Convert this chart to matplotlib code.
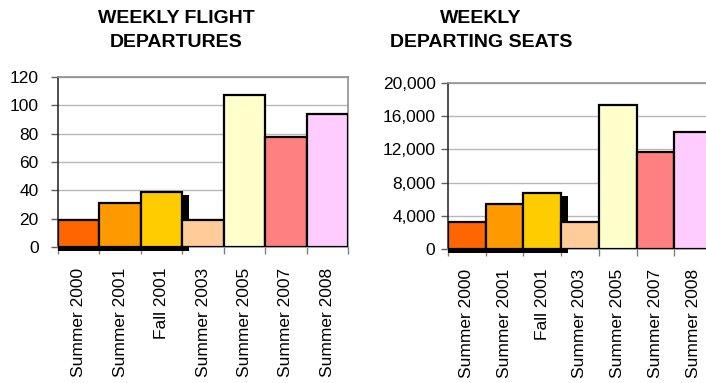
import matplotlib
matplotlib.use("Agg")
import matplotlib.pyplot as plt
import numpy as np
from matplotlib.ticker import FuncFormatter

plt.rcParams['font.family'] = ['Liberation Sans', 'DejaVu Sans']

categories = ["Summer 2000", "Summer 2001", "Fall 2001", "Summer 2003",
              "Summer 2005", "Summer 2007", "Summer 2008"]
departures = [19, 31, 39, 19, 107, 78, 94]
seats = [3240, 5400, 6800, 3240, 17400, 11700, 14100]
colors = ["#FF6600", "#FF9900", "#FFCC00", "#FFCC99", "#FFFFCC", "#FF8080", "#FFCCFF"]
left_ticks = [0, 20, 40, 60, 80, 100, 120]
right_ticks = [0, 4000, 8000, 12000, 16000, 20000]
shadowed = 3  # first bars with a dark 3D shadow artefact

W, H = 706, 383
fig = plt.figure(figsize=(W / 100, H / 100), dpi=100)

def make_axes(px_left, px_right, px_top, px_bottom):
    return fig.add_axes([px_left / W, 1 - px_bottom / H,
                         (px_right - px_left) / W, (px_bottom - px_top) / H])

ax1 = make_axes(58, 348, 77, 247)
ax2 = make_axes(448, 712, 83, 249)

def draw(ax, values, ticks, ymax, shadow_dx, shadow_dy, ypad, xpad, fmt=None):
    x = np.arange(len(values))
    # shadow artefact behind first bars
    for i in range(shadowed):
        ax.bar(x[i] - 0.5, values[i] + shadow_dy * 0.2, bottom=-shadow_dy,
               width=1.0 + shadow_dx, align="edge",
               color="black", edgecolor="black", linewidth=0, zorder=2.6,
               clip_on=False)
    ax.bar(x, values, width=1.0, color=colors, edgecolor="black",
           linewidth=1.6, zorder=3)
    ax.set_xlim(-0.5, len(values) - 0.5)
    ax.set_ylim(0, ymax)
    ax.set_yticks(ticks)
    if fmt:
        ax.yaxis.set_major_formatter(FuncFormatter(fmt))
    ax.yaxis.grid(True, color="#b8b8b8", linewidth=1.0, zorder=0)
    ax.set_axisbelow(True)
    ax.set_xticks(x)
    ax.set_xticklabels(categories, rotation=90, fontsize=12.5, va="top")
    ax.set_xticks(np.arange(len(values) + 1) - 0.5, minor=True)
    ax.tick_params(axis="x", which="major", length=0, pad=xpad)
    ax.tick_params(axis="x", which="minor", length=5, color="#808080", width=1)
    ax.tick_params(axis="y", length=5, color="#606060", width=1,
                   labelsize=12.5, pad=ypad)
    for s in ["top", "right", "bottom"]:
        ax.spines[s].set_color("#909090")
        ax.spines[s].set_linewidth(1.2)
    ax.spines["left"].set_color("#303030")
    ax.spines["left"].set_linewidth(1.2)

draw(ax1, departures, left_ticks, 120, 0.15, 3, 9, 15)
draw(ax2, seats, right_ticks, 20000, 0.17, 480, 4, 14,
     fmt=lambda v, p: f"{int(v):,}")

def title(lines, cx):
    ys = [23, 47]
    for t, y in zip(lines, ys):
        fig.text(cx / W, 1 - y / H, t, ha="center", va="baseline",
                 fontsize=14, fontweight="bold")

title(["WEEKLY FLIGHT", "DEPARTURES"], 176)
title(["WEEKLY", "DEPARTING SEATS"], 481)

fig.savefig("out.png", dpi=100)
